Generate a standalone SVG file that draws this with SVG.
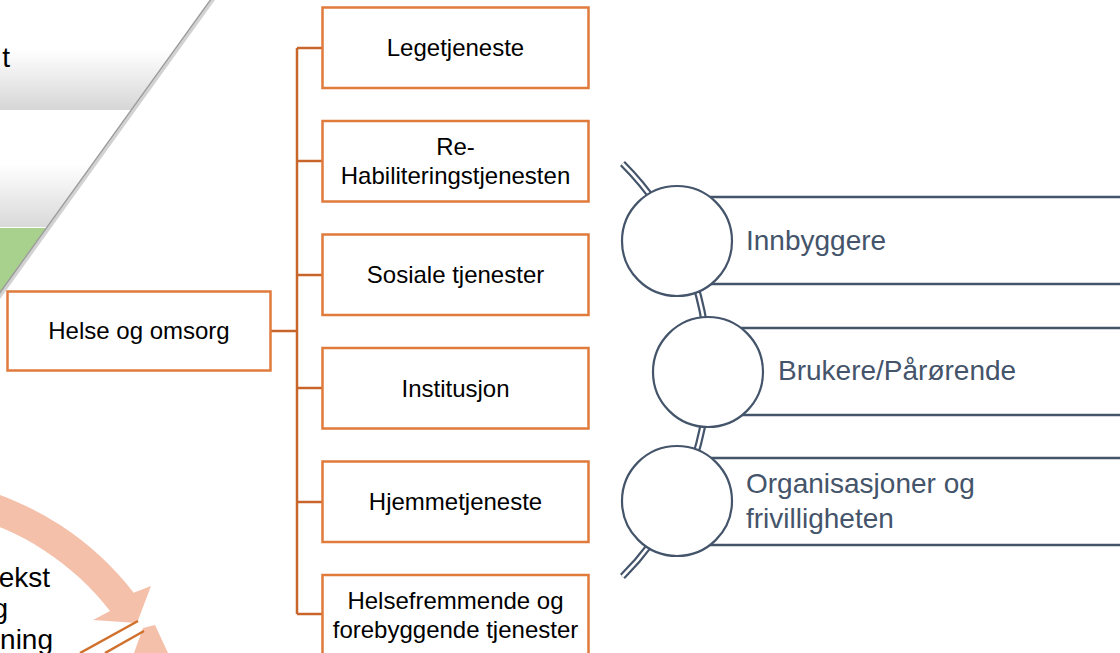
<svg xmlns="http://www.w3.org/2000/svg" width="1120" height="653" viewBox="0 0 1120 653">
<style>
.box{fill:#FFFFFF;stroke:#E07B3C;stroke-width:2.5}
.conn{fill:none;stroke:#C8652A;stroke-width:2.5}
.t{font-family:"Liberation Sans",Arial,sans-serif;font-size:24px;fill:#000000;text-anchor:middle}
.lt{font-family:"Liberation Sans",Arial,sans-serif;font-size:28px;fill:#000000;text-anchor:end}
.rt{font-family:"Liberation Sans",Arial,sans-serif;font-size:28px;fill:#44546A}
.bar{fill:#FFFFFF;stroke:#44546A;stroke-width:2.5}
.circ{fill:#FFFFFF;stroke:#44546A;stroke-width:2.2}
</style>
<defs>
<linearGradient id="g1" gradientUnits="userSpaceOnUse" x1="0" y1="0" x2="0" y2="110">
<stop offset="0.45" stop-color="#FFFFFF"/><stop offset="1" stop-color="#D6D6D6"/>
</linearGradient>
<linearGradient id="g2" gradientUnits="userSpaceOnUse" x1="0" y1="112" x2="0" y2="227">
<stop offset="0.45" stop-color="#FFFFFF"/><stop offset="1" stop-color="#D9D9D9"/>
</linearGradient>
</defs>
<rect width="1120" height="653" fill="#FFFFFF"/>

<g id="funnel">
<polygon points="0,0 210,0 131,110 0,110" fill="url(#g1)"/>
<polygon points="0,112 129.6,112 47,227 0,227" fill="url(#g2)"/>
<polygon points="0,228 46.3,228 0,292.5" fill="#A9D18E"/>
<line x1="216" y1="-4" x2="-4" y2="302" stroke="#D2D2D2" stroke-width="3"/>
<line x1="214" y1="-5" x2="-6" y2="301" stroke="#9C9C9C" stroke-width="1.5"/>
<text class="lt" x="10" y="67" font-size="34">t</text>
</g>

<g id="cycle">
<path d="M -227.9,504.9 A 298 298 0 0 1 133.7,592.8 L 151,586 L 137,623 L 93,620 L 110,611.1 A 268 268 0 0 0 -215.3,532.1 Z" fill="#F4C0AA"/>
<polygon points="143,628 155,625 168,653 134,653" fill="#F4C0AA"/>
<line x1="80" y1="653" x2="138" y2="621" stroke="#D0702D" stroke-width="2.5"/>
<line x1="105" y1="653" x2="144" y2="631" stroke="#D0702D" stroke-width="2.5"/>
<text class="lt" x="50" y="587">ekst</text>
<text class="lt" x="8" y="618">g</text>
<text class="lt" x="53" y="649">ning</text>
</g>

<g id="connectors">
<polyline class="conn" points="271,331 297,331"/>
<line class="conn" x1="297" y1="48" x2="297" y2="614"/>
<line class="conn" x1="297" y1="48" x2="322" y2="48"/>
<line class="conn" x1="297" y1="161" x2="322" y2="161"/>
<line class="conn" x1="297" y1="275" x2="322" y2="275"/>
<line class="conn" x1="297" y1="388" x2="322" y2="388"/>
<line class="conn" x1="297" y1="502" x2="322" y2="502"/>
<line class="conn" x1="297" y1="614" x2="322" y2="614"/>
</g>

<g id="helse">
<rect class="box" x="7.5" y="291.5" width="263" height="79"/>
<text class="t" x="139" y="339">Helse og omsorg</text>
</g>
<g id="legetjeneste">
<rect class="box" x="322.5" y="7.5" width="266" height="80.5"/>
<text class="t" x="455.5" y="55.5">Legetjeneste</text>
</g>
<g id="rehab">
<rect class="box" x="322.5" y="121" width="266" height="80.5"/>
<text class="t" x="455.5" y="155">Re-</text>
<text class="t" x="455.5" y="184">Habiliteringstjenesten</text>
</g>
<g id="sosiale">
<rect class="box" x="322.5" y="234.5" width="266" height="80.5"/>
<text class="t" x="455.5" y="283">Sosiale tjenester</text>
</g>
<g id="institusjon">
<rect class="box" x="322.5" y="348" width="266" height="80.5"/>
<text class="t" x="455.5" y="397">Institusjon</text>
</g>
<g id="hjemmetjeneste">
<rect class="box" x="322.5" y="461.5" width="266" height="80.5"/>
<text class="t" x="455.5" y="509.5">Hjemmetjeneste</text>
</g>
<g id="helsefremmende">
<rect class="box" x="322.5" y="575" width="266" height="90"/>
<text class="t" x="455.5" y="609">Helsefremmende og</text>
<text class="t" x="455.5" y="637.5">forebyggende tjenester</text>
</g>

<g id="chain">
<path d="M 622.5,163.5 A 292 292 0 0 1 622.5,576.5" fill="none" stroke="#44546A" stroke-width="7"/>
<path d="M 622.5,163.5 A 292 292 0 0 1 622.5,576.5" fill="none" stroke="#FFFFFF" stroke-width="2.6"/>
</g>

<g id="innbyggere">
<rect class="bar" x="677" y="197" width="470" height="87"/>
<circle class="circ" cx="677" cy="241" r="55"/>
<text class="rt" x="746" y="250">Innbyggere</text>
</g>
<g id="brukere">
<rect class="bar" x="708" y="328" width="440" height="87"/>
<circle class="circ" cx="708" cy="372" r="55"/>
<text class="rt" x="778" y="380">Brukere/Pårørende</text>
</g>
<g id="organisasjoner">
<rect class="bar" x="677" y="458" width="470" height="87"/>
<circle class="circ" cx="677" cy="501" r="55"/>
<text class="rt" x="746" y="493">Organisasjoner og</text>
<text class="rt" x="746" y="528">frivilligheten</text>
</g>
</svg>
